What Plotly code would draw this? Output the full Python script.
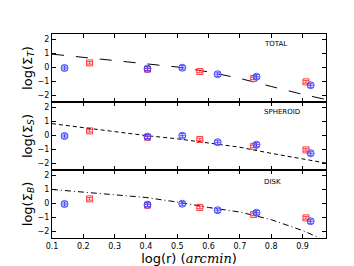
import plotly.graph_objects as go
from plotly.subplots import make_subplots

# Observed points (same in each panel)
blue_x = [0.14, 0.405, 0.516, 0.629, 0.753, 0.926]
blue_y = [-0.05, -0.1, -0.03, -0.5, -0.68, -1.29]
red_x = [0.22, 0.405, 0.572, 0.744, 0.911]
red_y = [0.32, -0.14, -0.3, -0.8, -1.05]
err = 0.15

# Model curves
line_x = [0.1, 0.2, 0.3, 0.4, 0.5, 0.6, 0.7, 0.8, 0.9, 0.975]
total_y = [0.95, 0.72, 0.52, 0.26, 0.02, -0.33, -0.8, -1.38, -1.95, -2.32]
spheroid_y = [0.84, 0.55, 0.28, -0.02, -0.25, -0.54, -0.86, -1.3, -1.7, -2.0]
disk_x = [0.1, 0.2, 0.3, 0.4, 0.5, 0.6, 0.7, 0.8, 0.9, 0.95]
disk_y = [1.0, 0.82, 0.6, 0.42, 0.09, -0.3, -0.63, -1.18, -1.96, -2.45]

panel_names = ["TOTAL", "SPHEROID", "DISK"]
ytitles = ["log(Σ<sub><i>T</i></sub>)", "log(Σ<sub><i>S</i></sub>)", "log(Σ<sub><i>B</i></sub>)"]
label_pos = [(0.815, 1.65), (0.835, 1.65), (0.805, 1.5)]

fig = make_subplots(rows=3, cols=1, shared_xaxes=True, vertical_spacing=0)

curves = [(line_x, total_y, "12px,12px"), (line_x, spheroid_y, "4px,3px"), (disk_x, disk_y, "6px,3px,1px,3px")]

for i in range(3):
    r = i + 1
    cx, cy, dash = curves[i]
    fig.add_trace(go.Scatter(x=cx, y=cy, mode="lines",
                             line=dict(color="black", width=1, dash=dash),
                             showlegend=False), row=r, col=1)
    fig.add_trace(go.Scatter(x=red_x, y=red_y, mode="markers",
                             marker=dict(symbol="square-open", size=6, color="#ff3b3b", line=dict(width=1)),
                             error_y=dict(type="constant", value=err * 0.6, color="#ff3b3b", thickness=1, width=3),
                             showlegend=False), row=r, col=1)
    fig.add_trace(go.Scatter(x=blue_x, y=blue_y, mode="markers",
                             marker=dict(symbol="circle-open", size=7, color="#4a4aff", line=dict(width=1)),
                             error_y=dict(type="constant", value=err, color="#4a4aff", thickness=1, width=3),
                             error_x=dict(type="constant", value=0.01, color="#4a4aff", thickness=1, width=0),
                             showlegend=False), row=r, col=1)
    lx, ly = label_pos[i]
    fig.add_annotation(x=lx, y=ly, text=panel_names[i], showarrow=False,
                       font=dict(size=7, color="black", family="DejaVu Sans"),
                       xref=f"x{'' if r == 1 else r}", yref=f"y{'' if r == 1 else r}")
    fig.update_yaxes(row=r, col=1, range=[-2.5, 2.4], tickvals=[-2, -1, 0, 1, 2],
                     ticktext=["−2", "−1", "0", "1", "2"],
                     title=dict(text=ytitles[i], font=dict(size=13, color="black", family="DejaVu Sans"), standoff=2),
                     showline=True, linecolor="black", linewidth=1, mirror="ticks",
                     ticks="inside", ticklen=4, tickcolor="black",
                     tickfont=dict(size=8, color="black", family="DejaVu Sans"),
                     showgrid=False, zeroline=False)
    fig.update_xaxes(row=r, col=1, range=[0.1, 0.975], tickvals=[0.1, 0.2, 0.3, 0.4, 0.5, 0.6, 0.7, 0.8, 0.9],
                     showline=True, linecolor="black", linewidth=1, mirror="ticks",
                     ticks="inside", ticklen=4, tickcolor="black",
                     tickfont=dict(size=8, color="black", family="DejaVu Sans"),
                     showgrid=False, zeroline=False)

fig.update_xaxes(row=3, col=1,
                 title=dict(text="log(r) (<i><span style=\"font-family:DejaVu Serif\">arcmin</span></i>)",
                            font=dict(size=13, color="black", family="DejaVu Sans"), standoff=2))

fig.update_layout(width=354, height=266, margin=dict(l=44, r=36, t=26, b=27),
                  paper_bgcolor="white", plot_bgcolor="white")

fig.write_html("out.html")
